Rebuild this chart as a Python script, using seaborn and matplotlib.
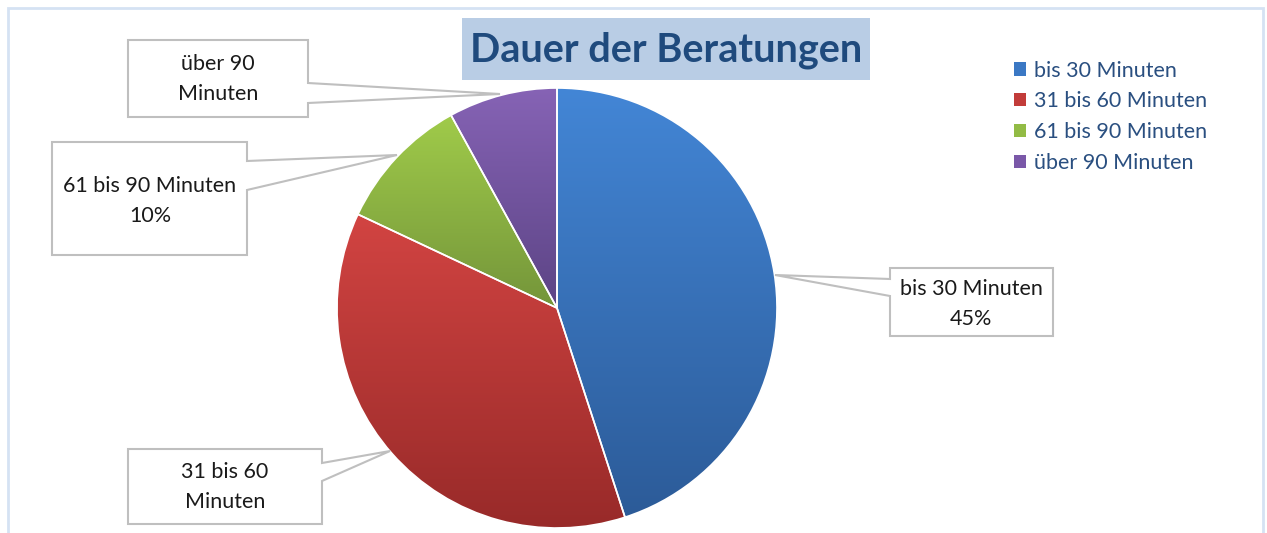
import numpy as np
import matplotlib
matplotlib.use("Agg")
import matplotlib.pyplot as plt
from matplotlib.patches import Rectangle, Polygon, Patch
import matplotlib.colors as mcolors
import seaborn as sns

# ---- data ----
categories = ["bis 30 Minuten", "31 bis 60 Minuten", "61 bis 90 Minuten", "über 90 Minuten"]
values = [45, 37, 10, 8]
box_labels = ["bis 30 Minuten\n45%", "31 bis 60\nMinuten", "61 bis 90 Minuten\n10%", "über 90\nMinuten"]
title = "Dauer der Beratungen"

# ---- styling ----
top_colors = ["#4386d6", "#d24442", "#a0cb4a", "#8663b5"]
bottom_colors = ["#2c5b98", "#982a29", "#74953a", "#5c4485"]
legend_colors = ["#3b78c4", "#c23c3a", "#92bb45", "#7a58a8"]

sns.set_theme(style="white")
plt.rcParams["font.family"] = ["Lato", "DejaVu Sans"]

W, H = 1267, 533
fig = plt.figure(figsize=(W / 100, H / 100), dpi=100)
ax = fig.add_axes([0, 0, 1, 1])

def py(y):  # pixel row -> data y
    return H - y

cx, cy, r = 557, py(308), 220
wedges, _ = ax.pie(values, startangle=90, counterclock=False, center=(cx, cy), radius=r,
                   wedgeprops=dict(edgecolor="white", linewidth=1.2))

for w, c1, c2 in zip(wedges, top_colors, bottom_colors):
    ext = w.get_path().get_extents()
    a = np.array(mcolors.to_rgba(c1)); b = np.array(mcolors.to_rgba(c2))
    t = np.linspace(0, 1, 256)[:, None]
    grad = (a[None, :] * (1 - t) + b[None, :] * t)[:, None, :]
    w.set_facecolor("none")
    im = ax.imshow(grad, extent=(ext.x0, ext.x1, ext.y0, ext.y1), origin="upper",
                   aspect="auto", zorder=w.get_zorder() - 0.1, interpolation="bilinear")
    im.set_clip_path(w)

ax.set_xlim(0, W)
ax.set_ylim(0, H)
ax.set_aspect("equal")
ax.axis("off")

# ---- callout label boxes (pixel layout) ----
edge = "#bfbfbf"
callouts = [
    ([(890, 268), (1053, 268), (1053, 336), (890, 336), (890, 296), (775, 275), (890, 279)], (971, 304), box_labels[0]),
    ([(128, 449), (322, 449), (322, 463), (390, 451), (322, 481), (322, 524), (128, 524)], (225, 487), box_labels[1]),
    ([(52, 142), (247, 142), (247, 161), (397, 155), (247, 190), (247, 255), (52, 255)], (150, 201), box_labels[2]),
    ([(128, 40), (308, 40), (308, 83), (500, 94), (308, 103), (308, 117), (128, 117)], (218, 79), box_labels[3]),
]
for poly, (tx, ty), txt in callouts:
    pts = [(x, py(y)) for x, y in poly]
    ax.add_patch(Polygon(pts, closed=True, facecolor="white", edgecolor=edge, linewidth=1.5, zorder=5))
    ax.text(tx, py(ty), txt, ha="center", va="center", fontsize=15.5, color="#1a1a1a",
            linespacing=1.6, zorder=6)

# ---- title ----
ax.add_patch(Rectangle((462, py(80)), 408, 62, facecolor="#b9cde5", edgecolor="none", zorder=4))
ax.text(666, py(50), title, ha="center", va="center", fontsize=28.5, fontweight="bold",
        color="#1f4a7d", zorder=6)

# ---- legend ----
handles = [Patch(facecolor=c, edgecolor="none") for c in legend_colors]
leg = ax.legend(handles, categories, loc="upper left", bbox_to_anchor=(1005 / W, 1 - 52 / H),
                frameon=False, fontsize=15.5, handlelength=0.56, handleheight=0.56,
                handletextpad=0.4, labelspacing=0.5, borderaxespad=0)
for t in leg.get_texts():
    t.set_color("#2a4f80")

# ---- outer chart border ----
fig.add_artist(Rectangle((8 / W, -0.1), 1255 / W, 1.1 - 8 / H, transform=fig.transFigure,
                         facecolor="none", edgecolor="#d5e2f3", linewidth=2, zorder=10))

fig.savefig("out.png", dpi=100)
